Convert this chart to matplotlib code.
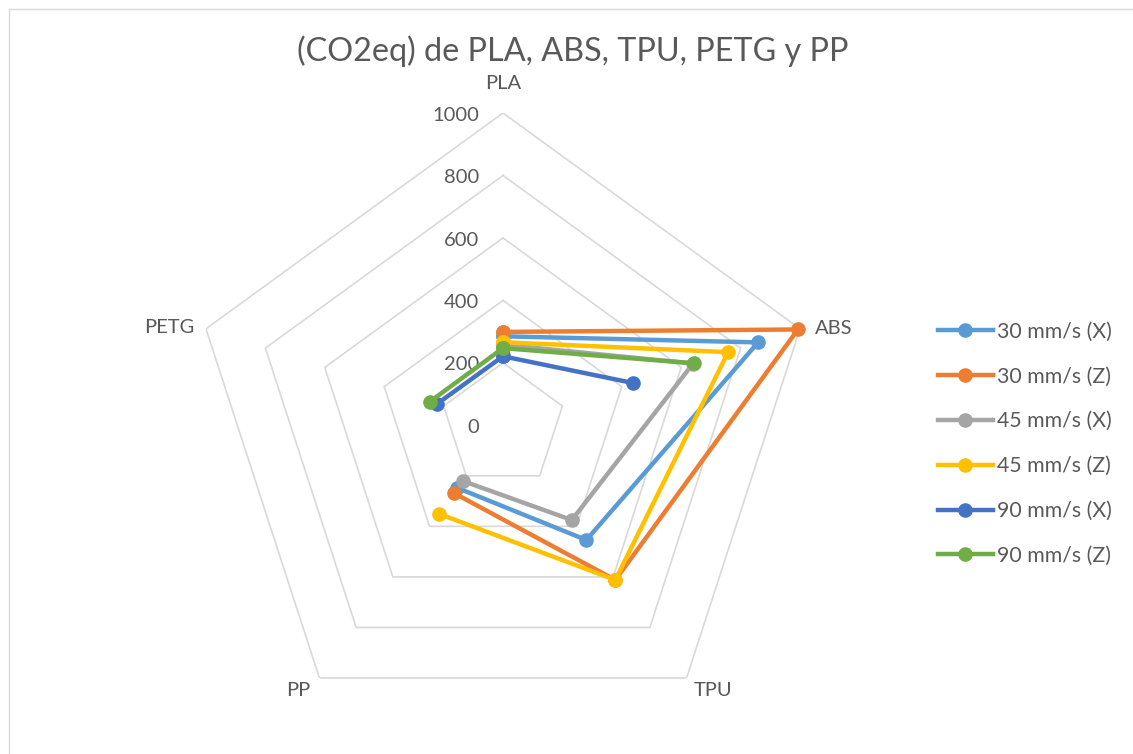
import numpy as np
import matplotlib
matplotlib.use("Agg")
import matplotlib.pyplot as plt
from matplotlib.lines import Line2D

plt.rcParams['font.family'] = ['Lato', 'DejaVu Sans']

categories = ["PLA", "ABS", "TPU", "PP", "PETG"]
series_names = ["30 mm/s (X)", "30 mm/s (Z)", "45 mm/s (X)",
                "45 mm/s (Z)", "90 mm/s (X)", "90 mm/s (Z)"]
s30x = [285, 859, 454, 248, np.nan]
s30z = [299, 993, 612, 268, np.nan]
s45x = [258, 640, 375, 220, np.nan]
s45z = [266, 758, 612, 350, np.nan]
s90x = [221, 438, np.nan, np.nan, 222]
s90z = [247, 643, np.nan, np.nan, 246]
series_values = [s30x, s30z, s45x, s45z, s90x, s90z]
colors = ["#5B9BD5", "#ED7D31", "#A5A5A5", "#FFC000", "#4472C4", "#70AD47"]
ring_levels = [200, 400, 600, 800, 1000]
tick_levels = [0, 200, 400, 600, 800, 1000]
title = "(CO2eq) de PLA, ABS, TPU, PETG y PP"

W, H = 1133, 754
fig = plt.figure(figsize=(W / 100, H / 100), dpi=100)

cx, cy, R = 503, 425.3, 312.3
ax = fig.add_axes([(cx - R) / W, (H - cy - R) / H, 2 * R / W, 2 * R / H],
                  projection='polar')
ax.set_theta_offset(np.pi / 2)
ax.set_theta_direction(-1)
ax.set_ylim(0, 1000)
ax.grid(False)
ax.spines['polar'].set_visible(False)
ax.set_xticks([])
ax.set_yticks([])
ax.patch.set_alpha(0)

n = len(categories)
theta = np.arange(n) * 2 * np.pi / n
theta_closed = np.append(theta, theta[0])

grid_col = "#D9D9D9"
for lvl in ring_levels:
    ax.plot(theta_closed, [lvl] * (n + 1), color=grid_col, lw=1.2, zorder=1)

txt_col = "#595959"
for lvl in tick_levels:
    ax.annotate(str(lvl), xy=(0, lvl), xytext=(-17, -1.5), textcoords='offset points',
                ha='right', va='center', fontsize=14.5, color=txt_col)

cat_offsets = {"PLA": (0, 21, 'center', 'center'),
               "ABS": (11, 0, 'left', 'center'),
               "TPU": (19, -9, 'center', 'center'),
               "PP": (-15, -9, 'center', 'center'),
               "PETG": (-8, 1, 'right', 'center')}
for i, c in enumerate(categories):
    dx, dy, ha, va = cat_offsets[c]
    ax.annotate(c, xy=(theta[i], 1000), xytext=(dx, dy), textcoords='offset points',
                ha=ha, va=va, fontsize=14.5, color=txt_col, annotation_clip=False)

handles = []
for name, vals, col in zip(series_names, series_values, colors):
    v = np.append(vals, vals[0])
    ax.plot(theta_closed, v, color=col, lw=3.2, marker='o', markersize=9.5,
            zorder=3, clip_on=False)
    handles.append(Line2D([0], [0], color=col, lw=3.2, marker='o', markersize=9.5))

fig.legend(handles, series_names, loc='upper left', bbox_to_anchor=(929 / W, 1 - 313 / H),
           frameon=False, fontsize=15.3, labelcolor=txt_col, handlelength=2.6,
           handletextpad=0.2, labelspacing=1.17, borderaxespad=0)

fig.text(573 / W, 1 - 51 / H, title, ha='center', va='center', fontsize=23.3,
         color=txt_col, fontweight='normal')

fig.add_artist(Line2D([9 / W, 9 / W], [0, 1 - 9 / H], transform=fig.transFigure,
                      color="#D9D9D9", lw=1))
fig.add_artist(Line2D([9 / W, 1], [1 - 9 / H, 1 - 9 / H], transform=fig.transFigure,
                      color="#D9D9D9", lw=1))

fig.savefig("out.png", dpi=100)
